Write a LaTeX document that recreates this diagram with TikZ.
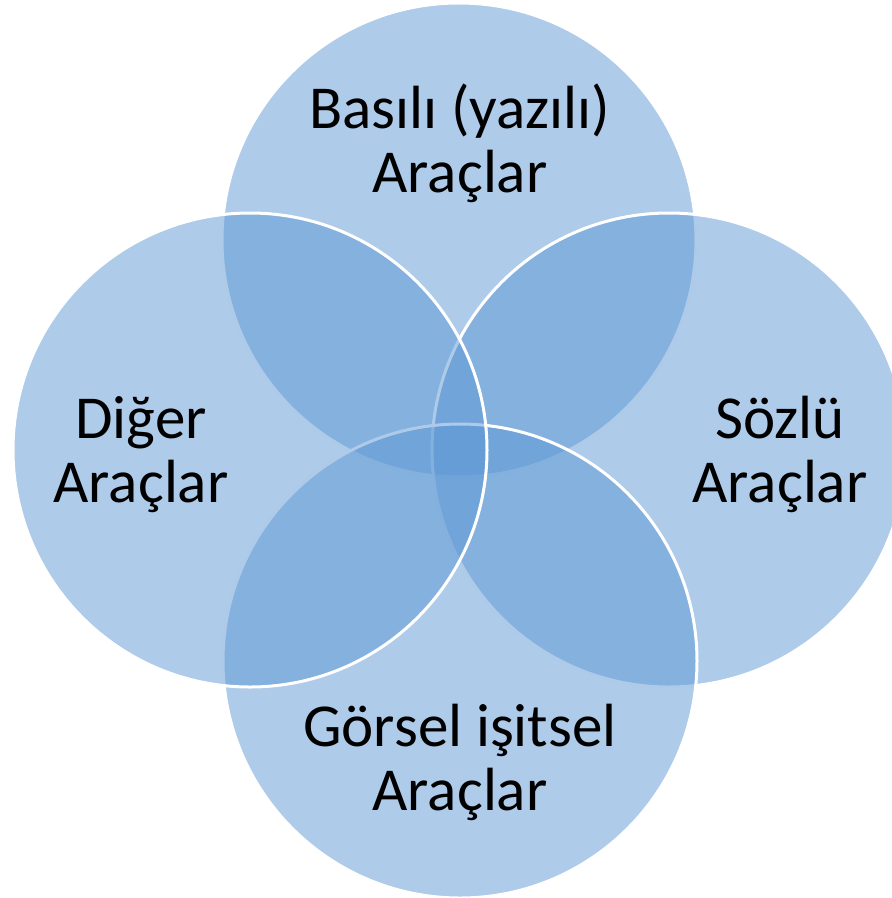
\documentclass[tikz,border=0pt]{standalone}
\usepackage{fontspec}
\setmainfont{Carlito}
\definecolor{venn}{RGB}{93,151,211}
\begin{document}
\begin{tikzpicture}[x=1pt,y=-1pt,
  venncircle/.style={circle,fill=venn,fill opacity=0.5,draw=white,draw opacity=1,line width=3pt,minimum size=474pt,inner sep=0pt},
  lbl/.style={align=center,anchor=base,font=\fontsize{61}{64}\selectfont,text=black,inner sep=0pt}]
\useasboundingbox (0,0) rectangle (892,898);
\node[venncircle] (top) at (459,240) {};
\node[venncircle] (right) at (669,450) {};
\node[venncircle] (bottom) at (460,661) {};
\node[venncircle] (left) at (250,450) {};
\node[lbl] (ttop) at (460,192) {Basılı (yazılı)\\Araçlar};
\node[lbl] (tleft) at (141,502) {Diğer\\Araçlar};
\node[lbl] (tright) at (780,502) {Sözlü\\Araçlar};
\node[lbl] (tbottom) at (460,810) {Görsel işitsel\\Araçlar};
\end{tikzpicture}
\end{document}
